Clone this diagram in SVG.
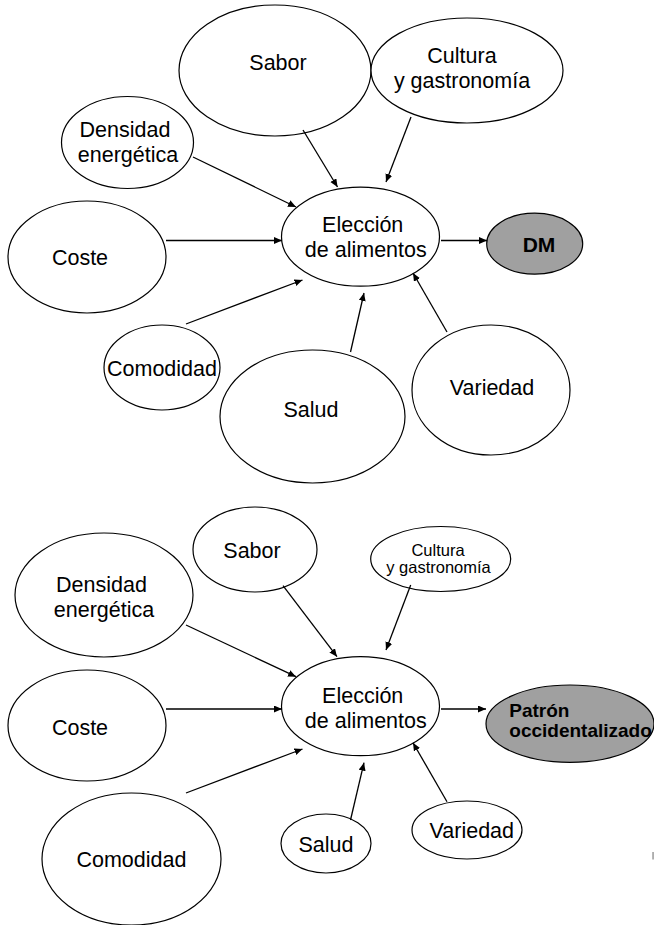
<svg xmlns="http://www.w3.org/2000/svg" width="654" height="925" viewBox="0 0 654 925">
<style>
  .n { fill: #ffffff; stroke: #000000; stroke-width: 1.2; }
  .g { fill: #a0a0a0; stroke: #000000; stroke-width: 1.2; }
  .t { font-family: "Liberation Sans", Arial, sans-serif; font-size: 21.5px; fill: #000; text-anchor: middle; }
  .s { font-family: "Liberation Sans", Arial, sans-serif; font-size: 16.5px; fill: #000; text-anchor: middle; }
  .b { font-family: "Liberation Sans", Arial, sans-serif; font-weight: bold; fill: #000; }
  .c line { stroke: #000; stroke-width: 1.3; marker-end: url(#ah); }
</style>
<defs>
  <marker id="ah" markerUnits="userSpaceOnUse" markerWidth="9" markerHeight="8" refX="8" refY="3.5" orient="auto">
    <path d="M0,0 L8,3.5 L0,7 z" fill="#000"/>
  </marker>
</defs>
<rect width="654" height="925" fill="#ffffff"/>

<!-- Top diagram -->
<g id="t-sabor"><ellipse class="n" cx="275" cy="70.5" rx="96" ry="65.5"/><text class="t" x="278" y="70">Sabor</text></g>
<g id="t-cultura"><ellipse class="n" cx="467" cy="70.5" rx="96" ry="52.5"/><text class="t" x="462" y="63">Cultura</text><text class="t" x="462" y="88">y gastronomía</text></g>
<g id="t-densidad"><ellipse class="n" cx="127.5" cy="142.5" rx="66" ry="46"/><text class="t" x="125" y="136.7">Densidad</text><text class="t" x="128" y="161.7">energética</text></g>
<g id="t-coste"><ellipse class="n" cx="87" cy="257" rx="79" ry="56"/><text class="t" x="80" y="265">Coste</text></g>
<g id="t-eleccion"><ellipse class="n" cx="360.5" cy="236.7" rx="79" ry="49.5"/><text class="t" x="362.7" y="232.3">Elección</text><text class="t" x="365.8" y="257.3">de alimentos</text></g>
<g id="t-dm"><ellipse class="g" cx="534.7" cy="243.7" rx="48" ry="30.5"/><text class="b" x="539" y="252" font-size="21" text-anchor="middle">DM</text></g>
<g id="t-comodidad"><ellipse class="n" cx="162" cy="367.5" rx="58" ry="42.5"/><text class="t" x="162" y="376">Comodidad</text></g>
<g id="t-salud"><ellipse class="n" cx="312.5" cy="416.5" rx="92.5" ry="66.5"/><text class="t" x="311" y="416.5">Salud</text></g>
<g id="t-variedad"><ellipse class="n" cx="491" cy="390" rx="79" ry="65"/><text class="t" x="492" y="395">Variedad</text></g>

<!-- Bottom diagram -->
<g id="b-sabor"><ellipse class="n" cx="255" cy="549.5" rx="62" ry="42.5"/><text class="t" x="252" y="558">Sabor</text></g>
<g id="b-cultura"><ellipse class="n" cx="440.7" cy="559" rx="70" ry="32.5"/><text class="s" x="438" y="556">Cultura</text><text class="s" x="438.5" y="573.3">y gastronomía</text></g>
<g id="b-densidad"><ellipse class="n" cx="104" cy="595" rx="89" ry="62"/><text class="t" x="101.5" y="591.5">Densidad</text><text class="t" x="104" y="616.5">energética</text></g>
<g id="b-coste"><ellipse class="n" cx="87" cy="725.5" rx="79" ry="55.5"/><text class="t" x="80" y="735">Coste</text></g>
<g id="b-eleccion"><ellipse class="n" cx="360.5" cy="706.2" rx="79" ry="49.5"/><text class="t" x="362.7" y="702.5">Elección</text><text class="t" x="365.8" y="727.5">de alimentos</text></g>
<g id="b-patron"><ellipse class="g" cx="570" cy="723.7" rx="84" ry="38.7"/><text class="b" x="509.3" y="716.7" font-size="19">Patrón</text><text class="b" x="509.3" y="736.7" font-size="19">occidentalizado</text></g>
<g id="b-comodidad"><ellipse class="n" cx="131.5" cy="859" rx="89.5" ry="66"/><text class="t" x="131.4" y="867">Comodidad</text></g>
<g id="b-salud"><ellipse class="n" cx="326" cy="843.5" rx="45" ry="29.5"/><text class="t" x="326" y="851.7">Salud</text></g>
<g id="b-variedad"><ellipse class="n" cx="467" cy="830" rx="55" ry="29"/><text class="t" x="471.8" y="838">Variedad</text></g>

<g id="connectors" class="c">
  <line x1="303" y1="130" x2="337.5" y2="187"/>
  <line x1="411" y1="117" x2="386" y2="182"/>
  <line x1="193" y1="157" x2="296" y2="207"/>
  <line x1="166" y1="240.5" x2="282" y2="240.5"/>
  <line x1="441" y1="240.5" x2="487" y2="240.5"/>
  <line x1="186" y1="324" x2="302.5" y2="280"/>
  <line x1="350.5" y1="352" x2="364" y2="293"/>
  <line x1="447" y1="332" x2="413" y2="273"/>

  <line x1="283" y1="585.7" x2="337" y2="656.7"/>
  <line x1="410.7" y1="585" x2="386" y2="650"/>
  <line x1="186" y1="625" x2="296" y2="676.7"/>
  <line x1="166" y1="709" x2="282" y2="709"/>
  <line x1="441" y1="709" x2="486" y2="709"/>
  <line x1="186" y1="793" x2="302.5" y2="749"/>
  <line x1="350.5" y1="820" x2="364" y2="762.7"/>
  <line x1="447" y1="801.7" x2="413" y2="742.7"/>
</g>

<rect x="652.4" y="852" width="1.3" height="7.5" fill="#8a8a8a"/>
</svg>
